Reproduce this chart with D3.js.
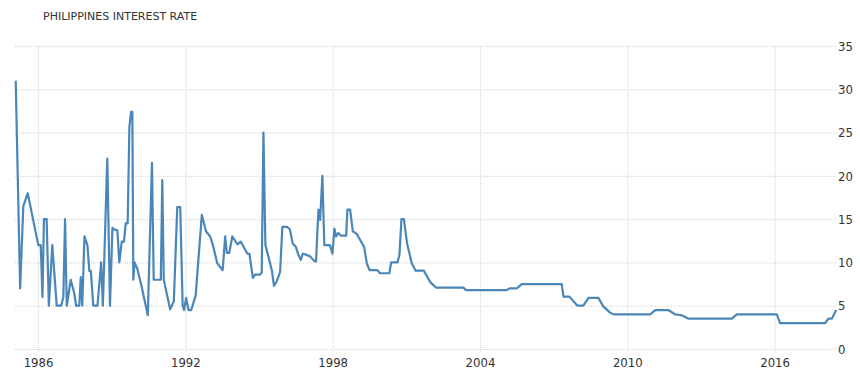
<!DOCTYPE html>
<html>
<head>
<meta charset="utf-8">
<script src="https://cdn.jsdelivr.net/npm/d3@7"></script>
<style>
    body { margin: 0; background: #fff; }
    .title { font-family: "DejaVu Sans", sans-serif; font-size: 11px; fill: #333; }
    .axis text { font-family: "DejaVu Sans Condensed", "Liberation Sans Narrow", sans-serif; font-size: 13px; fill: #333; }
    .axis line { stroke: #d4d4d4; stroke-dasharray: 1,1; }
    .axis path { display: none; }
    .line { fill: none; stroke: #4a86b8; stroke-width: 2.2px; stroke-linejoin: round; }
</style>
</head>
<body>
<div id="chart"></div>
<script>
// values (decimal year, percent)
var years = [
    1985.09, 1985.27, 1985.40, 1985.58, 1986.01, 1986.11, 1986.18, 1986.24, 1986.35, 1986.44,
    1986.58, 1986.76, 1986.94, 1987.03, 1987.10, 1987.17, 1987.33, 1987.47, 1987.55, 1987.68,
    1987.74, 1987.80, 1987.89, 1988.01, 1988.09, 1988.15, 1988.25, 1988.42, 1988.57, 1988.64,
    1988.82, 1988.93, 1989.03, 1989.11, 1989.23, 1989.31, 1989.41, 1989.50, 1989.57, 1989.65,
    1989.72, 1989.79, 1989.84, 1989.88, 1989.93, 1990.04, 1990.22, 1990.47, 1990.64, 1990.71,
    1991.00, 1991.06, 1991.12, 1991.38, 1991.53, 1991.67, 1991.79, 1991.89, 1991.95, 1992.03,
    1992.13, 1992.24, 1992.42, 1992.67, 1992.84, 1993.01, 1993.12, 1993.30, 1993.41, 1993.52,
    1993.62, 1993.69, 1993.79, 1993.91, 1994.12, 1994.26, 1994.43, 1994.53, 1994.61, 1994.75,
    1994.84, 1995.04, 1995.11, 1995.18, 1995.26, 1995.38, 1995.52, 1995.61, 1995.72, 1995.86,
    1995.95, 1996.15, 1996.26, 1996.37, 1996.50, 1996.60, 1996.70, 1996.78, 1996.92, 1997.08,
    1997.24, 1997.32, 1997.42, 1997.49, 1997.58, 1997.66, 1997.89, 1997.99, 1998.07, 1998.14,
    1998.23, 1998.33, 1998.55, 1998.60, 1998.71, 1998.82, 1998.98, 1999.12, 1999.28, 1999.39,
    1999.50, 1999.82, 1999.93, 2000.31, 2000.38, 2000.64, 2000.72, 2000.80, 2000.90, 2001.03,
    2001.22, 2001.38, 2001.71, 2001.98, 2002.21, 2003.32, 2003.43, 2005.09, 2005.20, 2005.50,
    2005.70, 2007.33, 2007.40, 2007.64, 2007.97, 2008.21, 2008.42, 2008.82, 2009.03, 2009.30,
    2009.43, 2010.93, 2011.14, 2011.67, 2011.95, 2012.22, 2012.49, 2014.26, 2014.46, 2016.09,
    2016.22, 2018.06, 2018.19, 2018.33, 2018.51
];
var rates = [
    31, 7, 16.5, 18, 12, 12, 6, 15, 15, 5,
    12, 5, 5, 6, 15, 5, 8, 6.5, 5, 5,
    8.3, 5, 13, 12, 9, 9, 5, 5, 10, 5,
    22, 5, 14, 13.8, 13.7, 10, 12.4, 12.4, 14.5, 14.5,
    25.7, 27.4, 27.4, 8, 10, 9.3, 7.2, 3.9, 21.5, 8,
    8, 19.5, 8, 4.6, 5.5, 16.4, 16.4, 5, 4.5, 5.9,
    4.5, 4.5, 6.2, 15.5, 13.6, 13, 12, 9.9, 9.5, 9.1,
    13, 11.1, 11.1, 13, 12.1, 12.4, 11.5, 11, 11, 8.2,
    8.6, 8.6, 8.8, 25, 12, 10.7, 9.1, 7.3, 7.8, 8.9,
    14.1, 14.1, 13.8, 12.2, 11.8, 10.9, 10.3, 11, 10.9, 10.7,
    10.2, 10.1, 16.1, 14.9, 20, 12, 12, 11, 13.9, 13,
    13.4, 13.1, 13.1, 16.1, 16.1, 13.6, 13.3, 12.6, 11.8, 9.9,
    9.1, 9.1, 8.75, 8.75, 10, 10, 10.9, 15, 15, 12.2,
    9.9, 9.05, 9.05, 7.7, 7.1, 7.1, 6.8, 6.8, 7, 7,
    7.5, 7.5, 6.05, 6.05, 5, 5, 5.9, 5.9, 4.9, 4.2,
    4, 4, 4.5, 4.5, 4, 3.9, 3.5, 3.5, 4, 4,
    3, 3, 3.5, 3.5, 4.5
];
var xTicks = [1986, 1992, 1998, 2004, 2010, 2016];
var yTicks = [0, 5, 10, 15, 20, 25, 30, 35];

var width = 860, height = 389;
var plotLeft = 15, plotRight = 836, plotTop = 46, plotBottom = 349;

var data = years.map(function (d, i) { return [d, rates[i]]; });

var x = d3.scaleLinear().domain([1985, 2018.5]).range([13.5, plotRight]);
var y = d3.scaleLinear().domain([0, 35]).range([plotBottom, plotTop]);

var svg = d3.select("#chart")
    .append("svg")
        .attr("width", width)
        .attr("height", height);

svg.append("text")
    .attr("class", "title")
    .attr("x", 43)
    .attr("y", 20)
    .text("PHILIPPINES INTEREST RATE");

// y axis on the right, ticks run across as grid
var yAxis = d3.axisRight(y)
    .tickValues(yTicks)
    .tickSize(-(plotRight - plotLeft))
    .tickPadding(2);

svg.append("g")
    .attr("class", "y axis")
    .attr("transform", "translate(" + plotRight + ",0)")
    .call(yAxis);

// x axis, ticks run up as grid
var xAxis = d3.axisBottom(x)
    .tickValues(xTicks)
    .tickFormat(d3.format("d"))
    .tickSize(-(plotBottom + 3 - plotTop))
    .tickPadding(6);

svg.append("g")
    .attr("class", "x axis")
    .attr("transform", "translate(0," + (plotBottom + 3) + ")")
    .call(xAxis);

var valueline = d3.line()
    .x(function (d) { return x(d[0]); })
    .y(function (d) { return y(d[1]); });

svg.append("path")
    .attr("class", "line")
    .attr("d", valueline(data));
</script>
</body>
</html>
